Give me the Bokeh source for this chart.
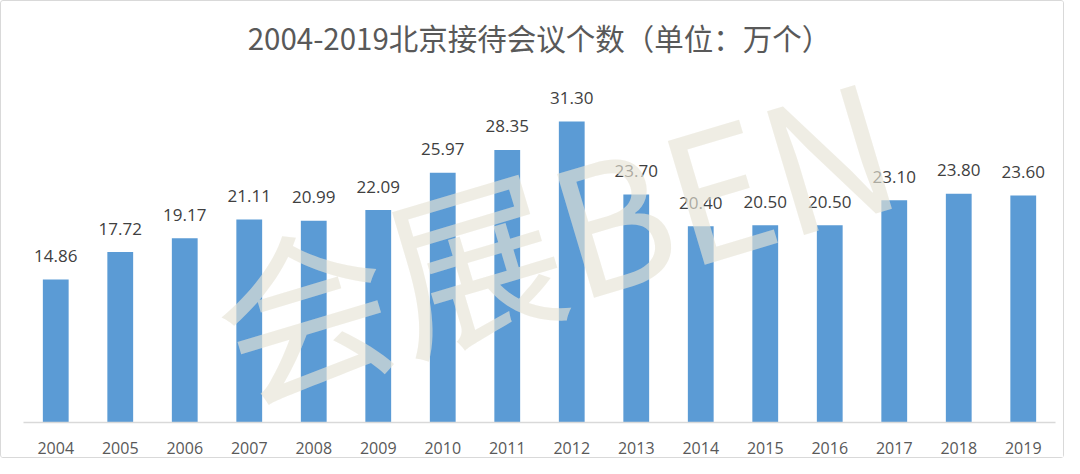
from bokeh.plotting import figure
from bokeh.models import ColumnDataSource, Range1d, FactorRange
from bokeh.core.properties import value
from bokeh.embed import file_html
from bokeh.resources import INLINE

years = ["2004", "2005", "2006", "2007", "2008", "2009", "2010", "2011",
         "2012", "2013", "2014", "2015", "2016", "2017", "2018", "2019"]
meetings = [14.86, 17.72, 19.17, 21.11, 20.99, 22.09, 25.97, 28.35,
            31.30, 23.70, 20.40, 20.50, 20.50, 23.10, 23.80, 23.60]
value_labels = ["%.2f" % v for v in meetings]
title_text = "2004-2019北京接待会议个数（单位：万个）"
watermark_text = "会展BEN"

src = ColumnDataSource(dict(year=years, v=meetings, lab=value_labels))

p = figure(width=1064, height=458, output_backend="svg", toolbar_location=None,
           x_range=FactorRange(factors=years, range_padding=0),
           y_range=Range1d(0, 43.78),
           min_border_left=22, min_border_right=10, min_border_top=0,
           min_border_bottom=37)
p.styles = {"border": "1px solid #d9d9d9", "border-radius": "3px"}
p.outline_line_color = None
p.background_fill_color = "white"
p.border_fill_color = "white"
p.xgrid.visible = False
p.ygrid.visible = False
p.yaxis.visible = False

ax = p.xaxis[0]
ax.axis_line_color = "#d9d9d9"
ax.axis_line_width = 1.5
ax.major_tick_line_color = None
ax.minor_tick_line_color = None
ax.major_label_standoff = 13
ax.major_label_text_font = "Open Sans"
ax.major_label_text_font_size = "16px"
ax.major_label_text_color = "#595959"

p.vbar(x="year", top="v", width=0.4, source=src, fill_color="#5b9bd5",
       line_color=None)

p.text(x="year", y="v", text="lab", source=src, text_align="center",
       text_baseline="middle", y_offset=-23.5,
       text_font=value("Open Sans"), text_font_size="17px",
       text_color="#404040")

tsrc = ColumnDataSource(dict(x=[8.0], y=[40.1], t=[title_text]))
p.text(x="x", y="y", text="t", source=tsrc, text_align="center",
       text_baseline="middle", text_font=value("Noto Sans CJK SC"),
       text_font_size="29.5px", text_color="#595959")

wsrc = ColumnDataSource(dict(x=[8.2], y=[20.0], t=[watermark_text]))
p.text(x="x", y="y", text="t", source=wsrc, text_align="center",
       text_baseline="middle", angle=0.29,
       text_font=value("Noto Sans CJK SC"), text_font_size="176px",
       text_color="#e6e3d6", text_alpha=0.65)

open("out.html", "w").write(file_html(p, INLINE))
